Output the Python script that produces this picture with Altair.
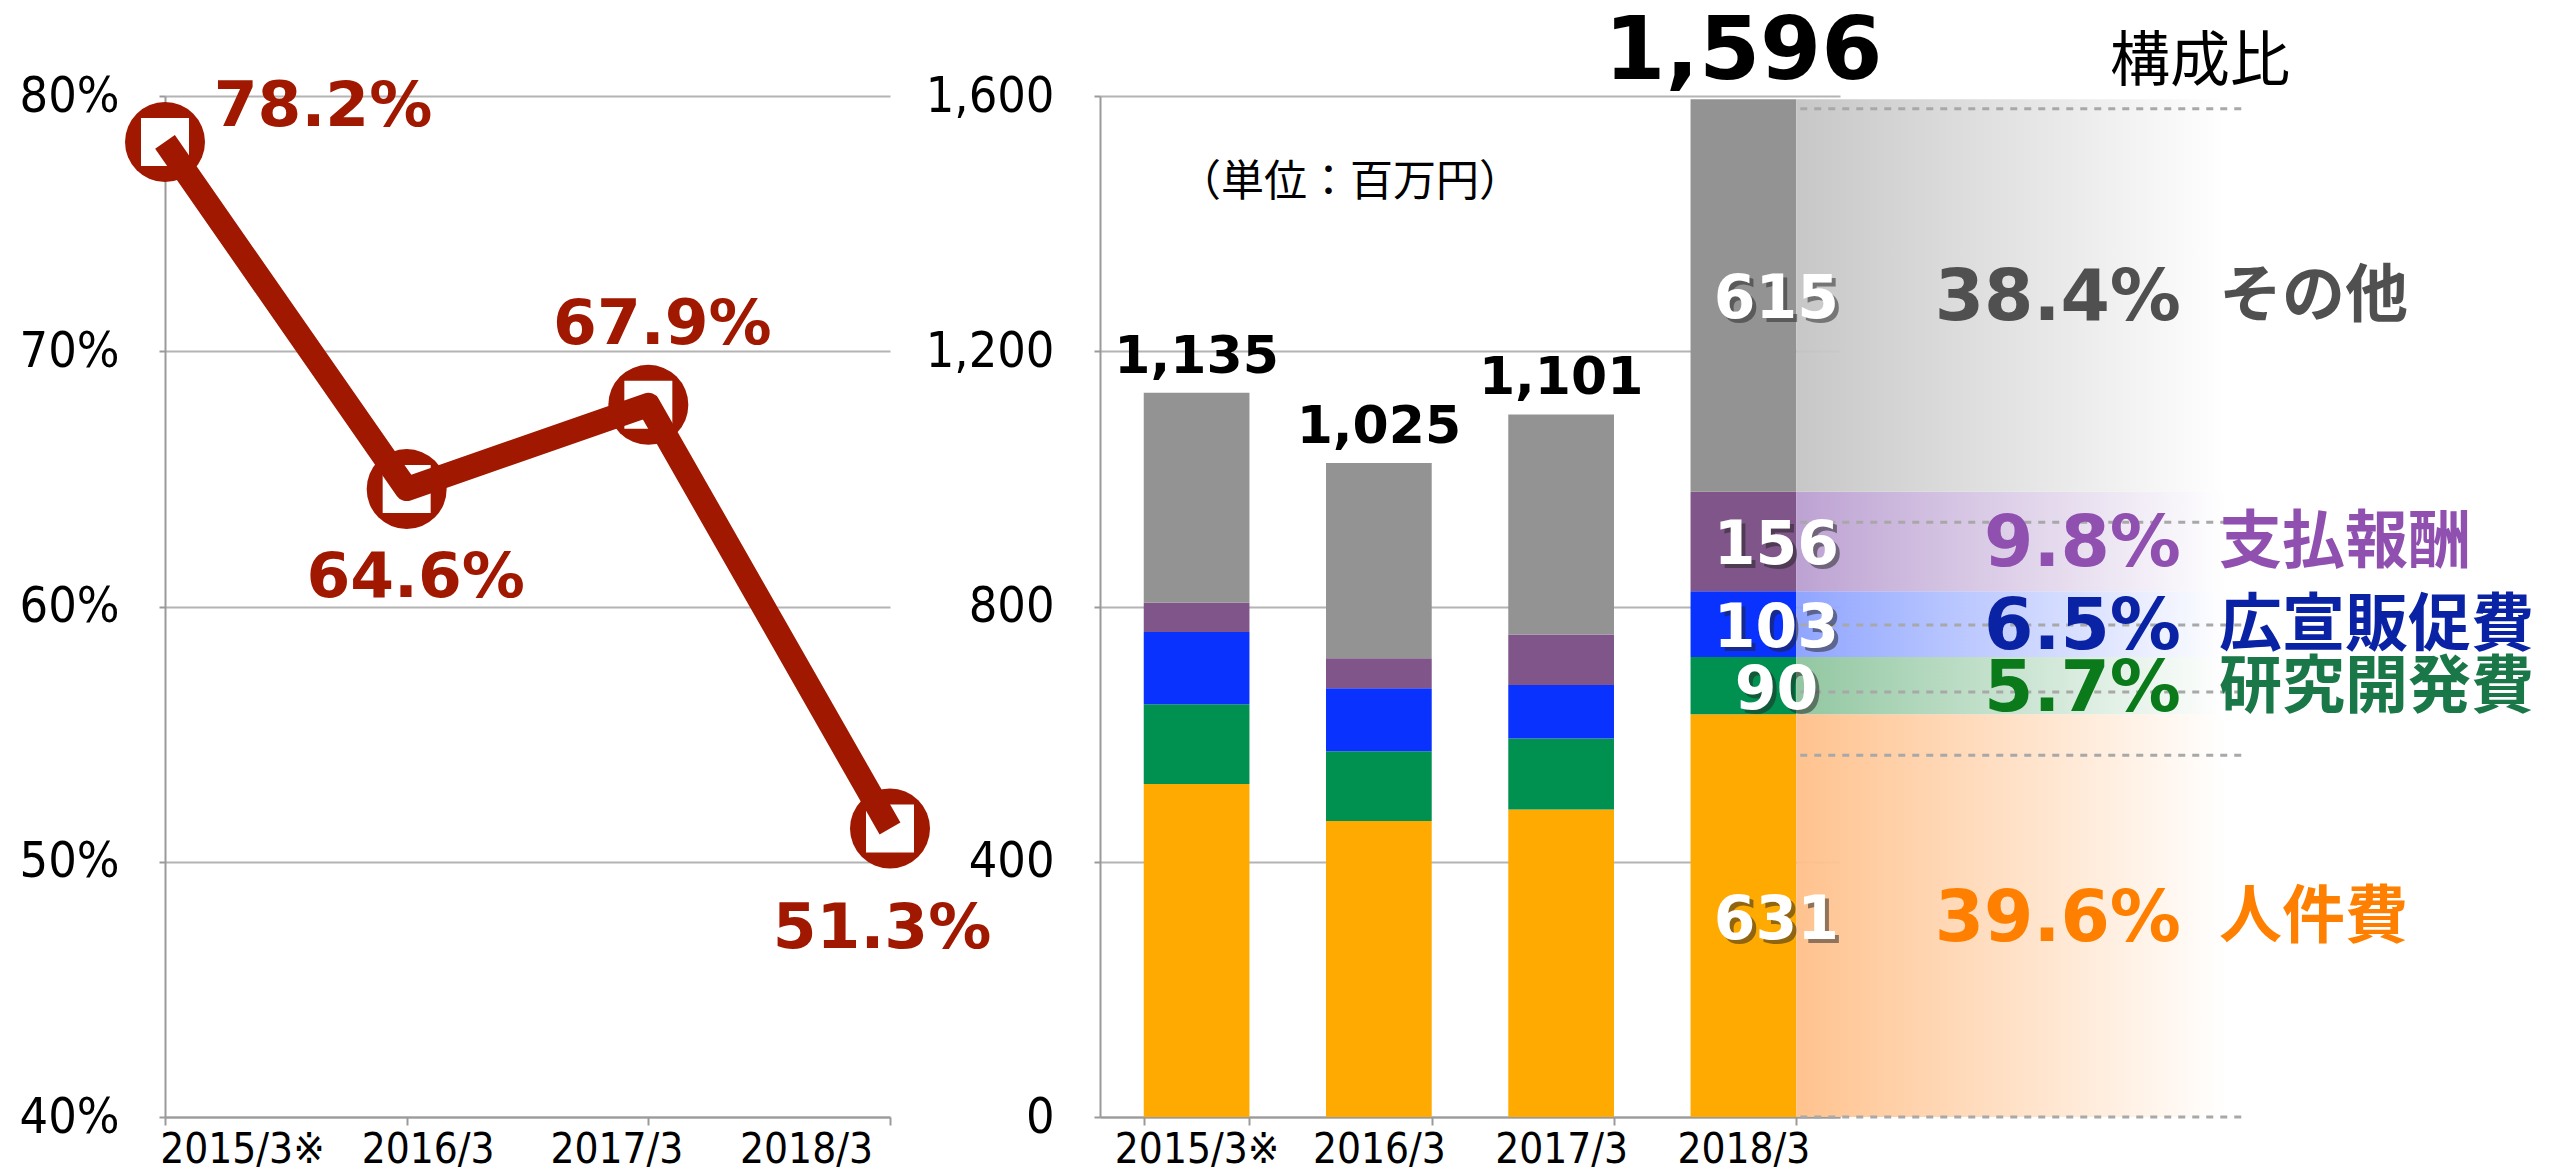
import altair as alt
import pandas as pd

# ---------------- data ----------------
periods = ["2015/3※", "2016/3", "2017/3", "2018/3"]
ratio = [78.2, 64.6, 67.9, 51.3]
ratio_labels = ["78.2%", "64.6%", "67.9%", "51.3%"]

categories = ["人件費", "研究開発費", "広宣販促費", "支払報酬", "その他"]
jinken = [522, 464, 482, 631]
kenkyu = [125, 109, 111, 90]
kousen = [113, 99, 84, 103]
shiharai = [46, 47, 79, 156]
sonota = [329, 306, 345, 615]
totals = [1135, 1025, 1101, 1596]
share_text = ["39.6%", "5.7%", "6.5%", "9.8%", "38.4%"]
guide_levels = [1580, 932, 771, 666, 567, 0]

# ---------------- styles ----------------
RED = "#A01800"
cat_colors = ["#FFAA00", "#009150", "#0A32FF", "#7F558A", "#939393"]
share_colors = ["#FF8000", "#0A7A1A", "#0A23A5", "#9050B0", "#505050"]
name_colors = ["#FF8000", "#1A7848", "#0A23A5", "#9050B0", "#505050"]
band_colors = ["#FFBF88", "#8CC49C", "#8AA0FF", "#B99DD0", "#C4C4C4"]

W1, W2, H = 725, 740, 1021
P_IN, P_OUT = 0.42, 0.24
STEP = W2 / (4 - P_IN + 2 * P_OUT)
BAR_R = (P_OUT + 3 + (1 - P_IN)) * STEP  # right edge of last bar (px)

AX_FONT = "DejaVu Sans Condensed"
GRID = "#b4b4b4"
DOM = "#9a9a9a"

# label shifts of the line chart's category axis (Excel-like placement)
left_label_offset = {
    "condition": [
        {"test": "datum.value === '2015/3※'", "value": 77},
        {"test": "datum.value === '2016/3'", "value": 21},
        {"test": "datum.value === '2017/3'", "value": -32},
    ],
    "value": -84,
}

# ---------------- left: line chart ----------------
df_line = pd.DataFrame({"period": periods, "ratio": ratio, "label": ratio_labels})

x1 = alt.X("period:N", sort=periods,
           scale=alt.Scale(type="point", padding=0),
           axis=alt.Axis(title=None, labelAngle=0, labelFont=AX_FONT, labelFontSize=42,
                         labelColor="black", labelAlign="center",
                         labelOffset=left_label_offset, tickSize=8, tickColor=DOM,
                         tickWidth=2, domainColor=DOM, domainWidth=2, labelPadding=4,
                         grid=False))
y1 = alt.Y("ratio:Q", scale=alt.Scale(domain=[40, 80], nice=False, zero=False),
           axis=alt.Axis(title=None, values=[40, 50, 60, 70, 80],
                         labelExpr="datum.value + '%'", labelFont=AX_FONT,
                         labelFontSize=50, labelColor="black", grid=True,
                         gridColor=GRID, gridWidth=2, tickSize=6, tickColor=DOM,
                         tickWidth=2, domainColor=DOM, domainWidth=2, labelPadding=40))

base1 = alt.Chart(df_line).encode(x=x1, y=y1)
circles = base1.mark_point(shape="circle", filled=True, size=6400, color=RED, opacity=1)
squares = base1.mark_point(shape="square", filled=True, size=2304, color="white", opacity=1)
line = base1.mark_line(color=RED, strokeWidth=24, strokeCap="butt", strokeJoin="round")

label_offsets = [(158, -35), (9, 89), (14, -80), (-8, 100)]
lbl_layers = []
for p, (dx, dy) in zip(periods, label_offsets):
    lbl_layers.append(
        base1.transform_filter(alt.datum.period == p)
        .mark_text(font="DejaVu Sans", fontWeight="bold", fontSize=63, color=RED,
                   dx=dx, dy=dy, baseline="middle", align="center")
        .encode(text="label:N"))

left = alt.layer(circles, squares, line, *lbl_layers).properties(width=W1, height=H)

# ---------------- right: stacked bars ----------------
series = [jinken, kenkyu, kousen, shiharai, sonota]
rows = []
for ci, (cat, vals) in enumerate(zip(categories, series)):
    for p, v in zip(periods, vals):
        rows.append({"period": p, "category": cat, "value": v, "idx": ci})
df_bar = pd.DataFrame(rows)

x2 = alt.X("period:N", sort=periods,
           scale=alt.Scale(paddingInner=P_IN, paddingOuter=P_OUT),
           axis=alt.Axis(title=None, labelAngle=0, labelFont=AX_FONT, labelFontSize=42,
                         labelColor="black", tickBand="extent", tickSize=8,
                         tickColor=DOM, tickWidth=2, domainColor=DOM, domainWidth=2,
                         labelPadding=4, grid=False))
yscale2 = alt.Scale(domain=[0, 1600], nice=False)
y2 = alt.Y("value:Q", stack="zero", scale=yscale2,
           axis=alt.Axis(title=None, values=[0, 400, 800, 1200, 1600], format=",d",
                         labelFont=AX_FONT, labelFontSize=50, labelColor="black",
                         grid=True, gridColor=GRID, gridWidth=2, tickSize=6,
                         tickColor=DOM, tickWidth=2, domainColor=DOM, domainWidth=2,
                         labelPadding=40))

bars = alt.Chart(df_bar).mark_bar().encode(
    x=x2, y=y2,
    color=alt.Color("category:N", scale=alt.Scale(domain=categories, range=cat_colors),
                    legend=None),
    order=alt.Order("idx:Q"))

df_tot = pd.DataFrame({"period": periods, "total": totals})
tot_text = alt.Chart(df_tot).mark_text(
    font="DejaVu Sans", fontWeight="bold", color="black", dy=-20,
    baseline="alphabetic", align="center").encode(
    x=alt.X("period:N", sort=periods),
    y=alt.Y("total:Q", scale=yscale2),
    text=alt.Text("total:Q", format=",d"),
    size=alt.condition(alt.datum.period == "2018/3", alt.value(88), alt.value(52)))

# last-year segments
last = [s[3] for s in series]
lo, acc = [], 0
for v in last:
    lo.append(acc)
    acc += v
hi = [l + v for l, v in zip(lo, last)]
df_seg = pd.DataFrame({"period": periods[3], "category": categories, "value": last,
                       "lo": lo, "hi": hi, "mid": [(a + b) / 2 for a, b in zip(lo, hi)],
                       "share": share_text})

band_layers = []
for i, cat in enumerate(categories):
    grad = {"gradient": "linear", "x1": 0, "x2": 1, "y1": 0, "y2": 0,
            "stops": [{"offset": 0, "color": band_colors[i]},
                      {"offset": 1, "color": "#ffffff"}]}
    band_layers.append(
        alt.Chart(df_seg).transform_filter(alt.datum.category == cat)
        .mark_rect(fill=grad, opacity=0.95)
        .encode(y=alt.Y("lo:Q", scale=yscale2), y2="hi:Q",
                x=alt.value(BAR_R), x2=alt.value(BAR_R + 430)))

df_guides = pd.DataFrame({"level": guide_levels})
guides = alt.Chart(df_guides).mark_rule(strokeDash=[7, 7], color="#a8a8a8", strokeWidth=3).encode(
    y=alt.Y("level:Q", scale=yscale2), x=alt.value(BAR_R + 4), x2=alt.value(BAR_R + 445))

seg_base = alt.Chart(df_seg).encode(x=alt.X("period:N", sort=periods),
                                    y=alt.Y("mid:Q", scale=yscale2),
                                    text=alt.Text("value:Q"))
seg_shadow = seg_base.mark_text(font="DejaVu Sans", fontWeight="bold", fontSize=60,
                                color="#222222", opacity=0.5, dx=37, dy=9,
                                baseline="middle")
seg_text = seg_base.mark_text(font="DejaVu Sans", fontWeight="bold", fontSize=60,
                              color="white", dx=33, dy=5, baseline="middle")

txt_layers = []
for i, cat in enumerate(categories):
    b = alt.Chart(df_seg).transform_filter(alt.datum.category == cat).encode(
        y=alt.Y("mid:Q", scale=yscale2))
    txt_layers.append(b.mark_text(font="DejaVu Sans", fontWeight="bold", fontSize=71,
                                  color=share_colors[i], align="right", baseline="middle",
                                  dy=4).encode(x=alt.value(1081), text="share:N"))
    txt_layers.append(b.mark_text(font="Noto Sans CJK JP", fontWeight="bold", fontSize=63,
                                  color=name_colors[i], align="left", baseline="middle",
                                  dy=2).encode(x=alt.value(1119), text="category:N"))

df_note = pd.DataFrame({"t": ["（単位：百万円）"]})
unit_note = alt.Chart(df_note).mark_text(font="Noto Sans CJK JP", fontSize=43,
                                         color="black", align="center",
                                         baseline="middle").encode(
    text="t:N", x=alt.value(250), y=alt.value(87))
df_head = pd.DataFrame({"t": ["構成比"]})
head = alt.Chart(df_head).mark_text(font="Noto Sans CJK JP", fontSize=60,
                                    color="black", align="center",
                                    baseline="middle").encode(
    text="t:N", x=alt.value(1100), y=alt.value(-33))

right = alt.layer(bars, *band_layers, guides, tot_text, seg_shadow, seg_text,
                  *txt_layers, unit_note, head).properties(width=W2, height=H)

chart = alt.hconcat(left, right, spacing=210, bounds="flush").properties(
    padding={"left": 11, "top": 0, "right": 5, "bottom": 5}
).configure_view(stroke=None)

chart.save("out.html", embed_options={"renderer": "svg", "actions": False})
